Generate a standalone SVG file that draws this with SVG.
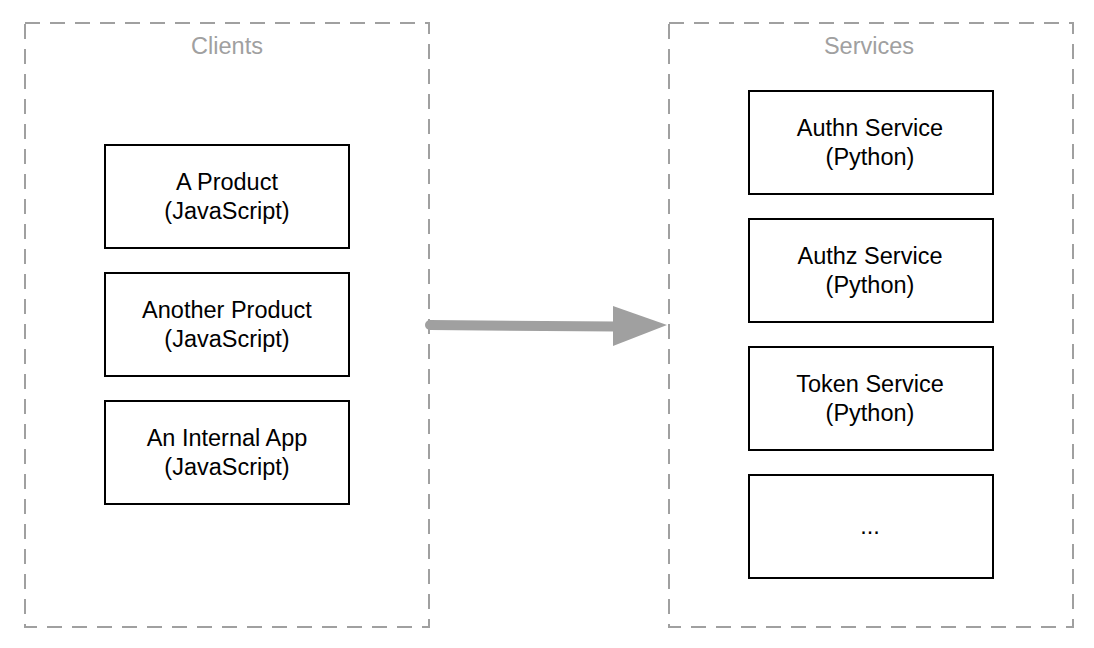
<svg xmlns="http://www.w3.org/2000/svg" width="1094" height="648" viewBox="0 0 1094 648">
<style>
.container{fill:none;stroke:#a0a0a0;stroke-width:2;stroke-dasharray:15 10;}
.title{font-family:"Liberation Sans",Arial,sans-serif;font-size:23.5px;fill:#a0a0a0;text-anchor:middle;}
.box{fill:#fff;stroke:#000;stroke-width:2;}
.label{font-family:"Liberation Sans",Arial,sans-serif;font-size:23.5px;fill:#000;text-anchor:middle;}
</style>
<rect width="1094" height="648" fill="#fff"/>
<g id="clients">
<rect class="container" x="25" y="23" width="404" height="604"/>
<text class="title" x="227" y="54">Clients</text>
</g>
<g id="services">
<rect class="container" x="669" y="23" width="404" height="604"/>
<text class="title" x="869" y="54">Services</text>
</g>
<g id="a-product">
<rect class="box" x="105" y="145" width="244" height="103"/>
<text class="label" x="227" y="190">A Product</text>
<text class="label" x="227" y="219">(JavaScript)</text>
</g>
<g id="another-product">
<rect class="box" x="105" y="273" width="244" height="103"/>
<text class="label" x="227" y="318">Another Product</text>
<text class="label" x="227" y="347">(JavaScript)</text>
</g>
<g id="internal-app">
<rect class="box" x="105" y="401" width="244" height="103"/>
<text class="label" x="227" y="446">An Internal App</text>
<text class="label" x="227" y="475">(JavaScript)</text>
</g>
<g id="authn">
<rect class="box" x="749" y="91" width="244" height="103"/>
<text class="label" x="870" y="136">Authn Service</text>
<text class="label" x="870" y="165">(Python)</text>
</g>
<g id="authz">
<rect class="box" x="749" y="219" width="244" height="103"/>
<text class="label" x="870" y="264">Authz Service</text>
<text class="label" x="870" y="293">(Python)</text>
</g>
<g id="token">
<rect class="box" x="749" y="347" width="244" height="103"/>
<text class="label" x="870" y="392">Token Service</text>
<text class="label" x="870" y="421">(Python)</text>
</g>
<g id="more">
<rect class="box" x="749" y="475" width="244" height="103"/>
<text class="label" x="870" y="534">...</text>
</g>
<g id="connectors">
<line x1="430" y1="325" x2="616" y2="326.5" stroke="#a0a0a0" stroke-width="10" stroke-linecap="round"/>
<polygon points="613,306 667,325 613,346" fill="#a0a0a0"/>
</g>
</svg>
